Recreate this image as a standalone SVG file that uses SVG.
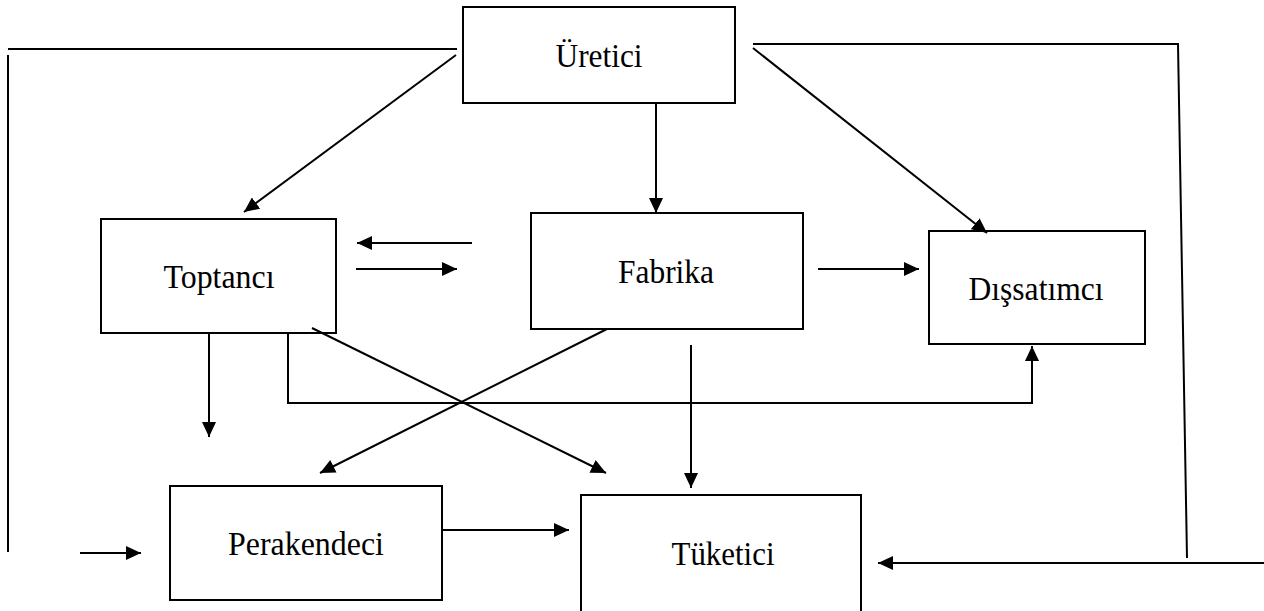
<svg xmlns="http://www.w3.org/2000/svg" width="1264" height="611" viewBox="0 0 1264 611">
<style>
.box{fill:#fff;stroke:#000;stroke-width:2}
.lbl{font-family:"Liberation Serif","Times New Roman",serif;font-size:34px;fill:#000;text-anchor:middle}
.c{fill:none;stroke:#000;stroke-width:2}
.a{marker-end:url(#ah)}
</style>
<defs>
<marker id="ah" markerUnits="userSpaceOnUse" markerWidth="16" markerHeight="14" refX="15" refY="7" orient="auto">
<path d="M0,0 L15,7 L0,14 z" fill="#000"/>
</marker>
</defs>
<rect width="1264" height="611" fill="#fff"/>
<g id="uretici"><rect class="box" x="463" y="7" width="272" height="96"/><text class="lbl" x="599" y="67" textLength="87" lengthAdjust="spacingAndGlyphs">Üretici</text></g>
<g id="toptanci"><rect class="box" x="101" y="219" width="235" height="114"/><text class="lbl" x="219" y="288" textLength="111" lengthAdjust="spacingAndGlyphs">Toptancı</text></g>
<g id="fabrika"><rect class="box" x="531" y="213" width="272" height="116"/><text class="lbl" x="666" y="283" textLength="96" lengthAdjust="spacingAndGlyphs">Fabrika</text></g>
<g id="dissatimci"><rect class="box" x="929" y="231" width="216" height="113"/><text class="lbl" x="1036" y="300" textLength="135" lengthAdjust="spacingAndGlyphs">Dışsatımcı</text></g>
<g id="perakendeci"><rect class="box" x="170" y="486" width="272" height="114"/><text class="lbl" x="306" y="555" textLength="156" lengthAdjust="spacingAndGlyphs">Perakendeci</text></g>
<g id="tuketici"><rect class="box" x="581" y="495" width="280" height="130"/><text class="lbl" x="723" y="565" textLength="103" lengthAdjust="spacingAndGlyphs">Tüketici</text></g>
<g id="connectors">
<path class="c" d="M8,49 L457,49"/>
<path class="c" d="M8,55 L8,552"/>
<path class="c a" d="M80,553 L141,553"/>
<path class="c" d="M753,44 L1178,44 L1187,558"/>
<path class="c a" d="M1264,563 L878,563"/>
<path class="c a" d="M456,55 L244,212"/>
<path class="c a" d="M753,48 L987,233"/>
<path class="c a" d="M656,103 L656,213"/>
<path class="c a" d="M472,243 L357,243"/>
<path class="c a" d="M356,269 L457,269"/>
<path class="c a" d="M818,269 L919,269"/>
<path class="c a" d="M209,333 L209,437"/>
<path class="c a" d="M288,333 L288,403 L1032,403 L1032,346"/>
<path class="c a" d="M312,328 L606,473"/>
<path class="c a" d="M607,329 L320,473"/>
<path class="c a" d="M691,345 L691,488"/>
<path class="c a" d="M443,530 L569,530"/>
</g>
</svg>
